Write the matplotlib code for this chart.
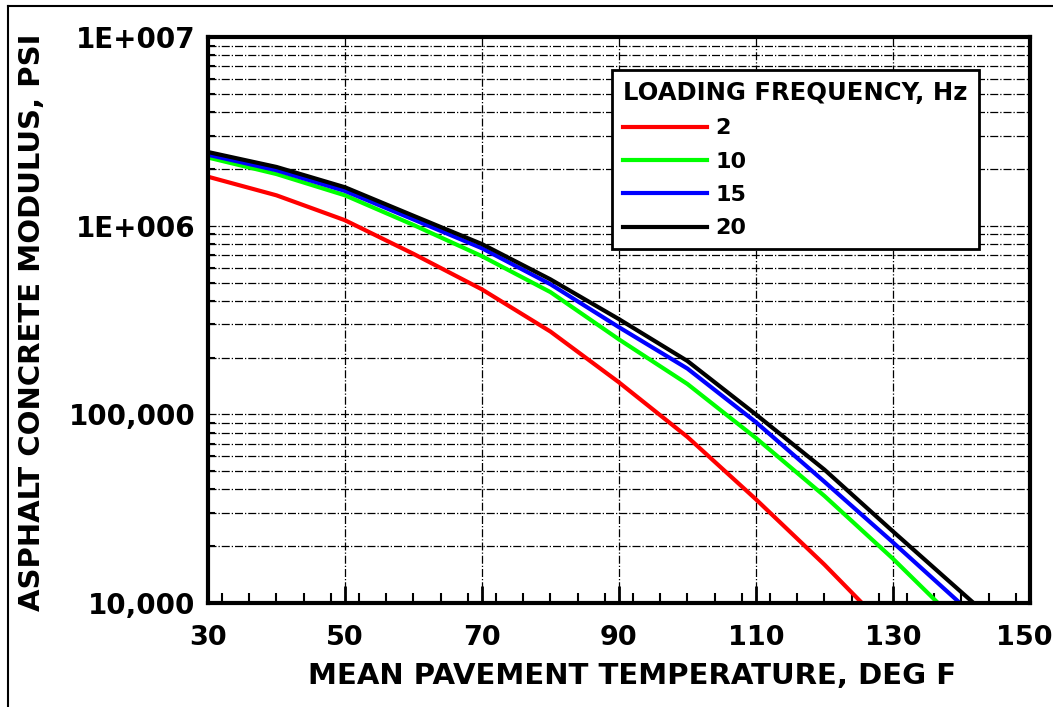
import matplotlib
matplotlib.use("Agg")
import matplotlib.pyplot as plt
import matplotlib.transforms as mtransforms
from matplotlib.ticker import FixedLocator, FixedFormatter, LogLocator, NullFormatter, MultipleLocator
from matplotlib.lines import Line2D

plt.rcParams['font.family'] = ['DejaVu Sans']
plt.rcParams['font.weight'] = 'bold'

# temperatures (deg F) and modulus (psi)
temp_2 = [30, 40, 50, 60, 70, 80, 90, 100, 110, 120, 125.5]
mod_2 = [1.82e6, 1.45e6, 1.07e6, 7.1e5, 4.6e5, 2.75e5, 1.48e5, 7.6e4, 3.55e4, 1.6e4, 1.0e4]

temp_10 = [30, 40, 50, 60, 70, 80, 90, 100, 110, 120, 130, 136.6]
mod_10 = [2.3e6, 1.88e6, 1.45e6, 1.01e6, 6.9e5, 4.45e5, 2.5e5, 1.45e5, 7.5e4, 3.7e4, 1.72e4, 1.0e4]

temp_15 = [30, 40, 50, 60, 70, 80, 90, 100, 110, 120, 130, 139.8]
mod_15 = [2.38e6, 1.97e6, 1.53e6, 1.08e6, 7.6e5, 4.9e5, 2.9e5, 1.75e5, 9.1e4, 4.4e4, 2.1e4, 1.0e4]

temp_20 = [30, 40, 50, 60, 70, 80, 90, 100, 110, 120, 130, 141.8]
mod_20 = [2.46e6, 2.05e6, 1.6e6, 1.13e6, 8.0e5, 5.2e5, 3.2e5, 1.92e5, 1.0e5, 5.1e4, 2.4e4, 1.0e4]

freq_labels = ["2", "10", "15", "20"]
colors = ["#ff0000", "#00ff00", "#0000ff", "#000000"]

x_ticks = [30, 50, 70, 90, 110, 130, 150]
y_ticks = [1e4, 1e5, 1e6, 1e7]
y_tick_labels = ["10,000", "100,000", "1E+006", "1E+007"]

fig = plt.figure(figsize=(10.53, 7.07), dpi=100)
ax = fig.add_axes([0.1975, 0.147, 0.7805, 0.8005])

series = [(temp_2, mod_2), (temp_10, mod_10), (temp_15, mod_15), (temp_20, mod_20)]
for (t, m), lab, c in zip(series, freq_labels, colors):
    ax.plot(t, m, color=c, lw=3, label=lab, solid_joinstyle='round')

ax.set_yscale('log')
ax.set_xlim(30, 150)
ax.set_ylim(1e4, 1e7)

ax.xaxis.set_major_locator(FixedLocator(x_ticks))
ax.xaxis.set_minor_locator(MultipleLocator(4))
ax.yaxis.set_major_locator(FixedLocator(y_ticks))
ax.yaxis.set_major_formatter(FixedFormatter(y_tick_labels))
ax.yaxis.set_minor_locator(LogLocator(base=10, subs=range(2, 10)))
ax.yaxis.set_minor_formatter(NullFormatter())

ax.tick_params(axis='x', which='major', direction='in', length=12, width=2,
               labelsize=19.5, pad=16)
ax.tick_params(axis='x', which='minor', direction='in', length=7, width=1.5)
ax.tick_params(axis='y', which='major', direction='in', length=0, labelsize=20, pad=9)
ax.tick_params(axis='y', which='minor', direction='in', length=5, width=1.5)

ax.grid(True, which='major', axis='x', color='black', ls='-.', lw=0.9)
ax.grid(True, which='both', axis='y', color='black', ls='-.', lw=0.9)

for s in ax.spines.values():
    s.set_linewidth(3)

ax.set_xlabel("MEAN PAVEMENT TEMPERATURE, DEG F", fontsize=21, fontweight='bold')
ax.xaxis.set_label_coords(0.516, -0.105)
ax.set_ylabel("ASPHALT CONCRETE MODULUS, PSI", fontsize=21, fontweight='bold')
ax.yaxis.set_label_coords(-0.197, 0.4956)

# last x tick label sits a bit left of its tick, as in the original
fig.canvas.draw()
last_lab = ax.get_xticklabels()[-1]
last_lab.set_transform(last_lab.get_transform() +
                       mtransforms.ScaledTranslation(-6 / 100, 0, fig.dpi_scale_trans))

leg = ax.legend(title="LOADING FREQUENCY, Hz", loc='upper left',
                bbox_to_anchor=(0.492, 0.942), fontsize=16, title_fontsize=17.5,
                frameon=True, fancybox=False, handlelength=3.75, borderpad=0.5,
                labelspacing=0.6, handletextpad=0.38, borderaxespad=0)
leg._legend_box.align = "left"
leg.get_frame().set_edgecolor('black')
leg.get_frame().set_linewidth(2)
leg.get_frame().set_alpha(1)
leg.get_title().set_fontweight('bold')
for txt in leg.get_texts():
    txt.set_fontweight('bold')
for h in leg.legend_handles:
    h.set_linewidth(3)

# outer frame (left and top edges)
fig.add_artist(Line2D([0.0075, 0.0075], [0.0, 0.9915], transform=fig.transFigure, color='black', lw=1.5))
fig.add_artist(Line2D([0.0075, 1.0], [0.9915, 0.9915], transform=fig.transFigure, color='black', lw=1.5))

fig.savefig("out.png", dpi=100)
